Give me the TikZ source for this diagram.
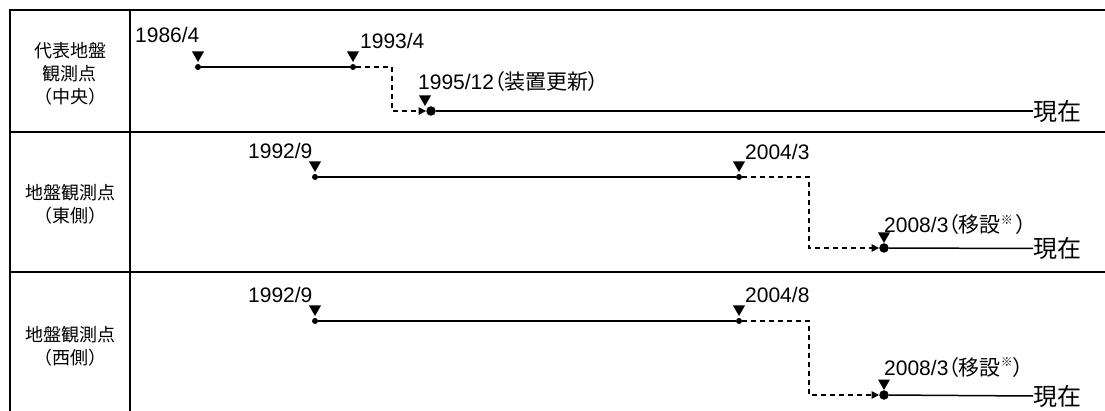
\documentclass[tikz,border=0pt]{standalone}
\usepackage{fontspec}
\setmainfont{Liberation Sans}
\newfontfamily\jp[RawFeature=+palt]{Noto Sans CJK JP}
\newfontfamily\jpn{Noto Sans CJK JP}
\usetikzlibrary{arrows.meta,calc}
\newcommand{\mk}[1]{\fill (#1) ++(-6,-15.5) -- ++(12,0) -- ++(-6,10.5) -- cycle;}
\newcommand{\kome}{\raisebox{0.4em}{\fontsize{12}{12}\selectfont\jp ※}}
\begin{document}
\begin{tikzpicture}[x=1pt,y=-1pt,
  frame/.style={line width=2.6pt,black},
  tl/.style={line width=1.5pt},
  dsh/.style={line width=1.5pt,dash pattern=on 5pt off 4pt},
  arr/.style={-{Triangle[length=7.5pt,width=7.5pt]}},
  dot/.style={circle,fill,inner sep=0pt,minimum size=6pt},
  bigdot/.style={circle,fill,inner sep=0pt,minimum size=9.5pt},
  lab/.style={inner sep=0pt,anchor=base west,font=\fontsize{21}{21}\selectfont},
  now/.style={inner sep=0pt,anchor=west,font=\jp\fontsize{24}{24}\selectfont},
  side/.style={inner sep=0pt,align=center,font=\jpn\fontsize{18}{23}\selectfont}]
\useasboundingbox (0,0) rectangle (1105,411);
% frame
\draw[frame] (1105,10) -- (10,10) -- (10,411);
\draw[frame] (130,10) -- (130,411);
\draw[frame] (10,132) -- (1105,132);
\draw[frame] (10,272) -- (1105,272);
% side labels
\node[side] (s1) at (70,73.5) {代表地盤\\観測点\\（中央）};
\node[side] (s2) at (70,204) {地盤観測点\\（東側）};
\node[side] (s3) at (70,346) {地盤観測点\\（西側）};
% row 1
\node[dot] (A1) at (198,67) {};
\node[dot] (A2) at (353,67) {};
\node[bigdot] (A3) at (431,111) {};
\coordinate (k1) at (392,111);
\coordinate (m3) at (425,111);
\node[now] (n1) at (1033,111) {現在};
\node[lab] (l11) at (135,43) {1986/4};
\node[lab] (l12) at (360,49) {1993/4};
\node[lab] (l13) at (418,90) {1995/12{\jp（装置更新）}};
\draw[tl] (A1) -- (A2);
\draw[dsh,arr] (A2) -| (k1) -- (A3);
\draw[tl] (A3) -- (n1.west);
\mk{A1}\mk{A2}\mk{m3}
% row 2
\node[dot] (B1) at (315,177) {};
\node[dot] (B2) at (739,177) {};
\node[bigdot] (B3) at (884,248) {};
\coordinate (k2) at (809,248);
\node[now] (n2) at (1033,248.5) {現在};
\node[lab] (l21) at (248,159) {1992/9};
\node[lab] (l22) at (745,160) {2004/3};
\node[lab] (l23) at (884,233) {2008/3{\jp（移設\kome\,）}};
\draw[tl] (B1) -- (B2);
\draw[dsh,arr] (B2) -| (k2) -- (B3);
\draw[tl] (B3) -- (n2.west);
\mk{B1}\mk{B2}\mk{B3}
% row 3
\node[dot] (C1) at (315,321) {};
\node[dot] (C2) at (739,321) {};
\node[bigdot] (C3) at (884,395) {};
\coordinate (k3) at (809,395);
\node[now] (n3) at (1033,396) {現在};
\node[lab] (l31) at (248,303) {1992/9};
\node[lab] (l32) at (745,303) {2004/8};
\node[lab] (l33) at (884,375) {2008/3{\jp（移設\kome）}};
\draw[tl] (C1) -- (C2);
\draw[dsh,arr] (C2) -| (k3) -- (C3);
\draw[tl] (C3) -- (n3.west);
\mk{C1}\mk{C2}\mk{C3}
\end{tikzpicture}
\end{document}
